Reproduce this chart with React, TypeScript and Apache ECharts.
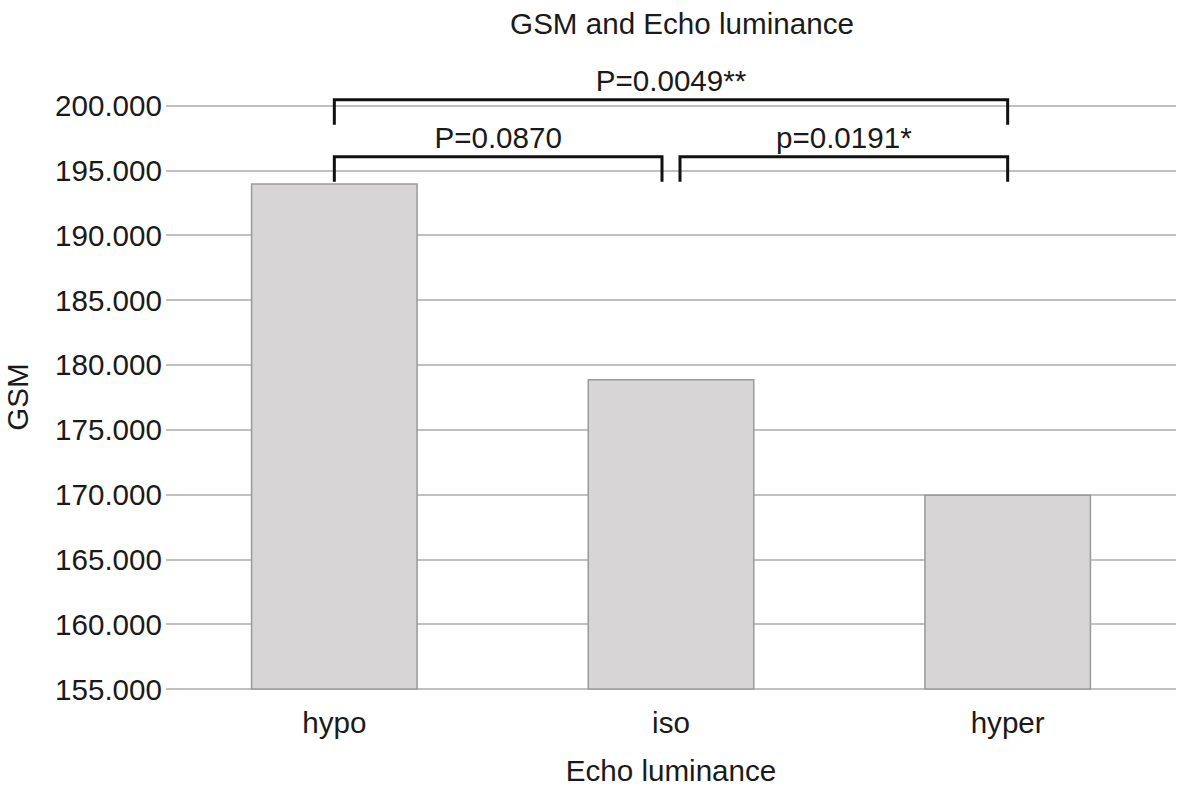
import React, { useEffect, useRef } from "react";
import * as echarts from "echarts";

const categories = ["hypo", "iso", "hyper"];
const gsmValues = [194.0, 178.9, 170.0];
const yTicks = { min: 155, max: 200, interval: 5 };

const bracketStart = [0, 0, 1];
const bracketEnd = [2, 1, 2];
const bracketLevel = [200.45, 196.05, 196.05];
const bracketLabels = ["P=0.0049**", "P=0.0870", "p=0.0191*"];

const FONT = "'Liberation Sans', Arial, Helvetica, sans-serif";
const FS = 29.6;
const TXT = "#1a1a1a";

export default function App() {
  const ref = useRef<HTMLDivElement>(null);
  useEffect(() => {
    document.body.style.margin = "0";
    const chart = echarts.init(ref.current!, null, { renderer: "svg" });
    const lastIdx = categories.length - 1;
    const option: any = {
      animation: false,
      backgroundColor: "#ffffff",
      textStyle: { fontFamily: FONT },
      title: {
        text: "GSM and Echo luminance",
        left: 677,
        top: 3,
        textAlign: "center",
        textStyle: { fontFamily: FONT, fontSize: FS, fontWeight: "normal", color: TXT },
      },
      grid: { left: 166, right: 8, top: 105.5, bottom: 99, outerBoundsMode: "none", containLabel: false },
      xAxis: {
        type: "category",
        data: categories,
        axisLine: { show: false },
        axisTick: { show: false },
        axisLabel: { fontFamily: FONT, fontSize: FS, color: TXT, margin: 18 },
        name: "Echo luminance",
        nameLocation: "middle",
        nameGap: 66,
        nameTextStyle: { fontFamily: FONT, fontSize: FS, color: TXT },
      },
      yAxis: {
        type: "value",
        min: yTicks.min,
        max: yTicks.max,
        interval: yTicks.interval,
        axisLine: { show: false },
        axisTick: { show: false },
        splitLine: { lineStyle: { color: "#ababab", width: 1.5 } },
        axisLabel: {
          fontFamily: FONT,
          fontSize: FS,
          color: TXT,
          margin: 4,
          formatter: (v: number) => v.toFixed(3),
        },
      },
      graphic: [
        {
          type: "text",
          x: 17,
          y: 397,
          rotation: Math.PI / 2,
          style: {
            text: "GSM",
            fontFamily: FONT,
            fontSize: FS,
            fill: TXT,
            textAlign: "center",
            textVerticalAlign: "middle",
          },
        },
      ],
      series: [
        {
          type: "bar",
          data: gsmValues,
          barWidth: 167,
          itemStyle: { color: "#d7d5d6", borderColor: "#9a9a9a", borderWidth: 1.5 },
        },
        {
          type: "custom",
          clip: false,
          silent: true,
          encode: { x: 0, y: 2 },
          data: bracketStart.map((s, i) => [s, bracketEnd[i], bracketLevel[i]]),
          renderItem: (params: any, api: any) => {
            const s = api.value(0);
            const e = api.value(1);
            const lvl = api.value(2);
            const p1 = api.coord([s, lvl]);
            const p2 = api.coord([e, lvl]);
            const inset = 9;
            const x1 = p1[0] + (s > 0 && s < lastIdx ? inset : 0);
            const x2 = p2[0] - (e > 0 && e < lastIdx ? inset : 0);
            const y = p1[1];
            const drop = 25;
            return {
              type: "group",
              children: [
                {
                  type: "polyline",
                  shape: { points: [[x1, y + drop], [x1, y], [x2, y], [x2, y + drop]] },
                  style: { stroke: "#111111", lineWidth: 3, fill: "none" },
                },
                {
                  type: "text",
                  x: (x1 + x2) / 2,
                  y: y - 19,
                  style: {
                    text: bracketLabels[params.dataIndex],
                    fontFamily: FONT,
                    fontSize: FS,
                    fill: TXT,
                    textAlign: "center",
                    textVerticalAlign: "middle",
                  },
                },
              ],
            };
          },
        },
      ],
    };
    chart.setOption(option);
    return () => chart.dispose();
  }, []);
  return <div ref={ref} style={{ width: 1184, height: 788 }} />;
}
